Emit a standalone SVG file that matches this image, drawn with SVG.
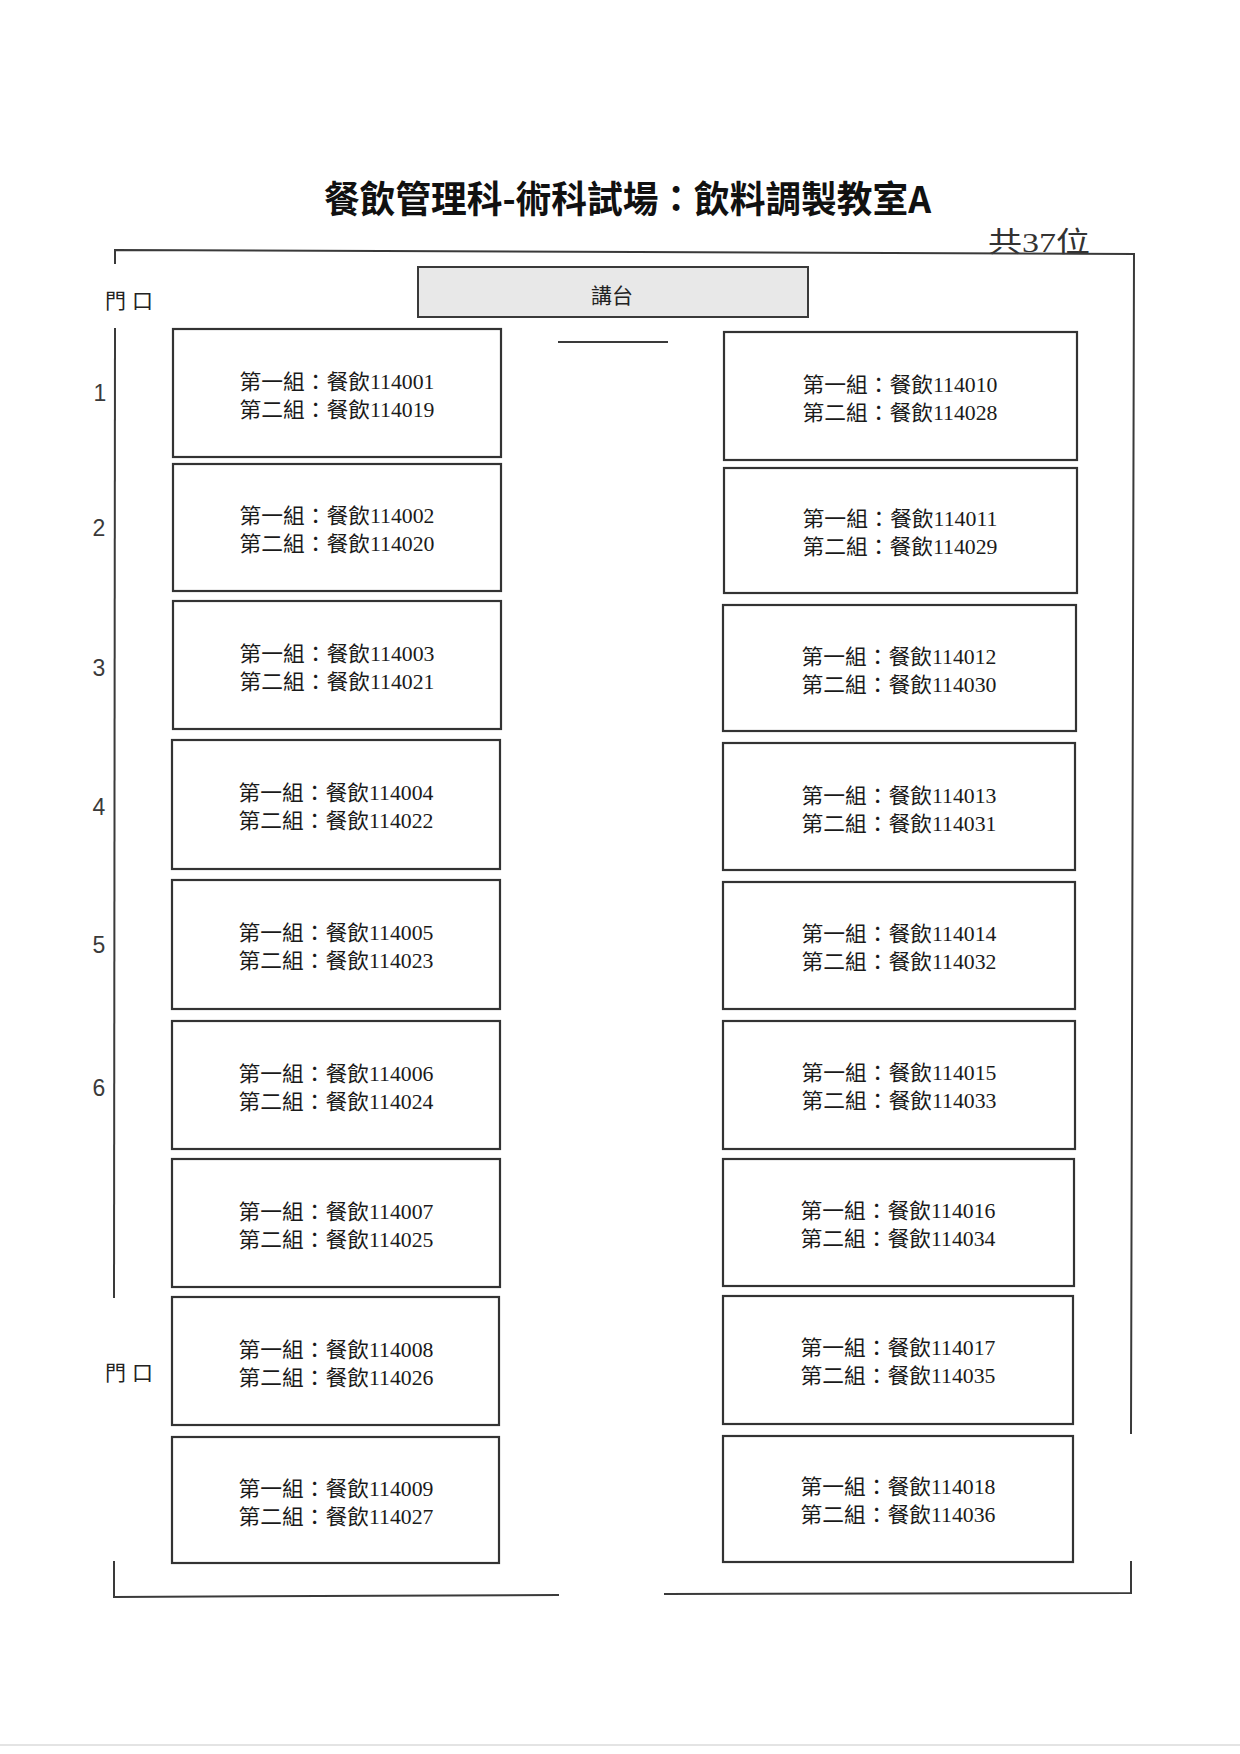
<svg xmlns="http://www.w3.org/2000/svg" width="1240" height="1754" viewBox="0 0 1240 1754">
<style>
.bg{fill:#ffffff}
.wall{stroke:#3a3a3a;stroke-width:2;fill:none;stroke-linecap:square}
.seat{fill:#ffffff;stroke:#333333;stroke-width:2.2}
.podium{fill:#e8e8e8;stroke:#3a3a3a;stroke-width:2}
.t{font-family:"Liberation Serif","Noto Sans CJK TC",serif;font-size:21px;fill:#1a1a1a;text-anchor:middle}
.num{font-family:"Liberation Sans","DejaVu Sans",sans-serif;font-size:23px;fill:#3a3a3a;text-anchor:middle}
.door{font-family:"Noto Sans CJK TC",sans-serif;font-size:21px;fill:#222;letter-spacing:6px}
.title{font-family:"Noto Sans CJK TC",sans-serif;font-size:37px;font-weight:bold;fill:#111}
.total{font-family:"Liberation Serif","Noto Sans CJK TC",serif;font-size:28px;fill:#333}
.lbl{font-family:"Noto Sans CJK TC",sans-serif;font-size:21px;fill:#222;text-anchor:middle}
</style>
<rect class="bg" x="0" y="0" width="1240" height="1754"/>

<g id="title">
<text class="title" x="324" y="213" textLength="607" lengthAdjust="spacingAndGlyphs">餐飲管理科-術科試場：飲料調製教室A</text>
</g>
<g id="total">
<text class="total" x="988" y="252" textLength="102" lengthAdjust="spacingAndGlyphs">共37位</text>
</g>

<g id="walls">
<polyline class="wall" points="115,263 115,250 1134,254 1131,1433"/>
<line class="wall" x1="115" y1="329" x2="114" y2="1297"/>
<polyline class="wall" points="114,1562 114,1597 558,1595"/>
<polyline class="wall" points="665,1594 1131,1593 1131,1562"/>
<line class="wall" x1="559" y1="342" x2="667" y2="342"/>
</g>

<g id="doors">
<text class="door" x="105" y="308">門口</text>
<text class="door" x="105" y="1380">門口</text>
</g>

<g id="row-numbers">
<text class="num" x="100" y="401">1</text>
<text class="num" x="99" y="536">2</text>
<text class="num" x="99" y="676">3</text>
<text class="num" x="99" y="815">4</text>
<text class="num" x="99" y="953">5</text>
<text class="num" x="99" y="1096">6</text>
</g>

<g id="podium">
<rect class="podium" x="418" y="267" width="390" height="50"/>
<text class="lbl" x="612" y="303">講台</text>
</g>

<g id="seat-1"><rect class="seat" x="173" y="329" width="328" height="128"/>
<text class="t" x="337" y="389" textLength="195" lengthAdjust="spacingAndGlyphs">第一組：餐飲114001</text>
<text class="t" x="337" y="417" textLength="195" lengthAdjust="spacingAndGlyphs">第二組：餐飲114019</text></g>
<g id="seat-2"><rect class="seat" x="173" y="464" width="328" height="127"/>
<text class="t" x="337" y="523" textLength="195" lengthAdjust="spacingAndGlyphs">第一組：餐飲114002</text>
<text class="t" x="337" y="551" textLength="195" lengthAdjust="spacingAndGlyphs">第二組：餐飲114020</text></g>
<g id="seat-3"><rect class="seat" x="173" y="601" width="328" height="128"/>
<text class="t" x="337" y="661" textLength="195" lengthAdjust="spacingAndGlyphs">第一組：餐飲114003</text>
<text class="t" x="337" y="689" textLength="195" lengthAdjust="spacingAndGlyphs">第二組：餐飲114021</text></g>
<g id="seat-4"><rect class="seat" x="172" y="740" width="328" height="129"/>
<text class="t" x="336" y="800" textLength="195" lengthAdjust="spacingAndGlyphs">第一組：餐飲114004</text>
<text class="t" x="336" y="828" textLength="195" lengthAdjust="spacingAndGlyphs">第二組：餐飲114022</text></g>
<g id="seat-5"><rect class="seat" x="172" y="880" width="328" height="129"/>
<text class="t" x="336" y="940" textLength="195" lengthAdjust="spacingAndGlyphs">第一組：餐飲114005</text>
<text class="t" x="336" y="968" textLength="195" lengthAdjust="spacingAndGlyphs">第二組：餐飲114023</text></g>
<g id="seat-6"><rect class="seat" x="172" y="1021" width="328" height="128"/>
<text class="t" x="336" y="1081" textLength="195" lengthAdjust="spacingAndGlyphs">第一組：餐飲114006</text>
<text class="t" x="336" y="1109" textLength="195" lengthAdjust="spacingAndGlyphs">第二組：餐飲114024</text></g>
<g id="seat-7"><rect class="seat" x="172" y="1159" width="328" height="128"/>
<text class="t" x="336" y="1219" textLength="195" lengthAdjust="spacingAndGlyphs">第一組：餐飲114007</text>
<text class="t" x="336" y="1247" textLength="195" lengthAdjust="spacingAndGlyphs">第二組：餐飲114025</text></g>
<g id="seat-8"><rect class="seat" x="172" y="1297" width="327" height="128"/>
<text class="t" x="336" y="1357" textLength="195" lengthAdjust="spacingAndGlyphs">第一組：餐飲114008</text>
<text class="t" x="336" y="1385" textLength="195" lengthAdjust="spacingAndGlyphs">第二組：餐飲114026</text></g>
<g id="seat-9"><rect class="seat" x="172" y="1437" width="327" height="126"/>
<text class="t" x="336" y="1496" textLength="195" lengthAdjust="spacingAndGlyphs">第一組：餐飲114009</text>
<text class="t" x="336" y="1524" textLength="195" lengthAdjust="spacingAndGlyphs">第二組：餐飲114027</text></g>

<g id="seat-10"><rect class="seat" x="724" y="332" width="353" height="128"/>
<text class="t" x="900" y="392" textLength="195" lengthAdjust="spacingAndGlyphs">第一組：餐飲114010</text>
<text class="t" x="900" y="420" textLength="195" lengthAdjust="spacingAndGlyphs">第二組：餐飲114028</text></g>
<g id="seat-11"><rect class="seat" x="724" y="468" width="353" height="125"/>
<text class="t" x="900" y="526" textLength="195" lengthAdjust="spacingAndGlyphs">第一組：餐飲114011</text>
<text class="t" x="900" y="554" textLength="195" lengthAdjust="spacingAndGlyphs">第二組：餐飲114029</text></g>
<g id="seat-12"><rect class="seat" x="723" y="605" width="353" height="126"/>
<text class="t" x="899" y="664" textLength="195" lengthAdjust="spacingAndGlyphs">第一組：餐飲114012</text>
<text class="t" x="899" y="692" textLength="195" lengthAdjust="spacingAndGlyphs">第二組：餐飲114030</text></g>
<g id="seat-13"><rect class="seat" x="723" y="743" width="352" height="127"/>
<text class="t" x="899" y="803" textLength="195" lengthAdjust="spacingAndGlyphs">第一組：餐飲114013</text>
<text class="t" x="899" y="831" textLength="195" lengthAdjust="spacingAndGlyphs">第二組：餐飲114031</text></g>
<g id="seat-14"><rect class="seat" x="723" y="882" width="352" height="127"/>
<text class="t" x="899" y="941" textLength="195" lengthAdjust="spacingAndGlyphs">第一組：餐飲114014</text>
<text class="t" x="899" y="969" textLength="195" lengthAdjust="spacingAndGlyphs">第二組：餐飲114032</text></g>
<g id="seat-15"><rect class="seat" x="723" y="1021" width="352" height="128"/>
<text class="t" x="899" y="1080" textLength="195" lengthAdjust="spacingAndGlyphs">第一組：餐飲114015</text>
<text class="t" x="899" y="1108" textLength="195" lengthAdjust="spacingAndGlyphs">第二組：餐飲114033</text></g>
<g id="seat-16"><rect class="seat" x="723" y="1159" width="351" height="127"/>
<text class="t" x="898" y="1218" textLength="195" lengthAdjust="spacingAndGlyphs">第一組：餐飲114016</text>
<text class="t" x="898" y="1246" textLength="195" lengthAdjust="spacingAndGlyphs">第二組：餐飲114034</text></g>
<g id="seat-17"><rect class="seat" x="723" y="1296" width="350" height="128"/>
<text class="t" x="898" y="1355" textLength="195" lengthAdjust="spacingAndGlyphs">第一組：餐飲114017</text>
<text class="t" x="898" y="1383" textLength="195" lengthAdjust="spacingAndGlyphs">第二組：餐飲114035</text></g>
<g id="seat-18"><rect class="seat" x="723" y="1436" width="350" height="126"/>
<text class="t" x="898" y="1494" textLength="195" lengthAdjust="spacingAndGlyphs">第一組：餐飲114018</text>
<text class="t" x="898" y="1522" textLength="195" lengthAdjust="spacingAndGlyphs">第二組：餐飲114036</text></g>

<line x1="0" y1="1745" x2="1240" y2="1745" stroke="#e4e4e4" stroke-width="2"/>
</svg>
